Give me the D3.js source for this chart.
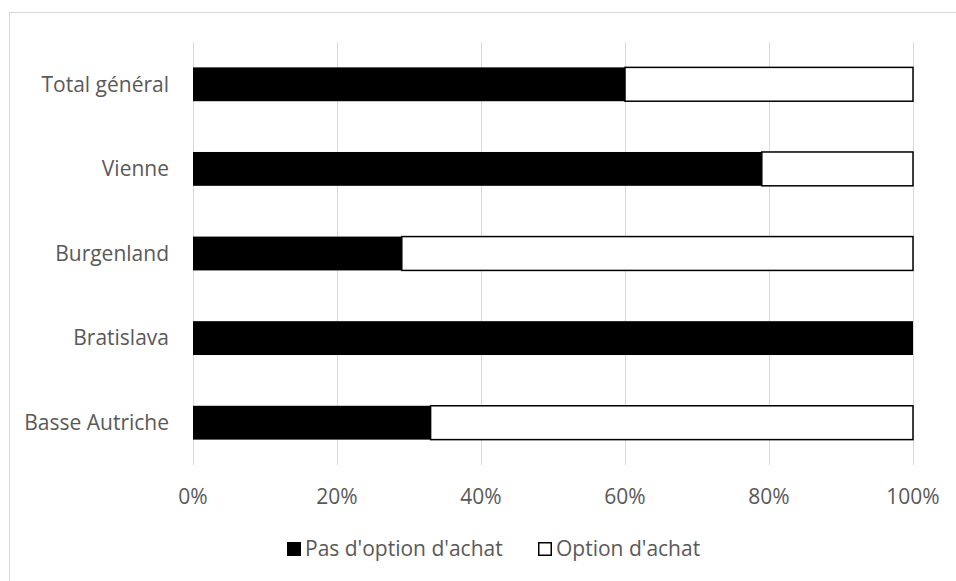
<!DOCTYPE html>
<html><head><meta charset="utf-8">
<script src="https://cdn.jsdelivr.net/npm/d3@7"></script>
<style>body{margin:0;background:#fff}svg{display:block}text{font-family:"Open Sans",sans-serif;fill:#595959}</style>
</head><body>
<svg id="c" width="956" height="581"></svg>
<script>
const categories = ["Total général","Vienne","Burgenland","Bratislava","Basse Autriche"];
const seriesNames = ["Pas d'option d'achat","Option d'achat"];
const noOption = [60,79,29,100,33];
const option = [40,21,71,0,67];
const tickValues = [0,20,40,60,80,100];

const FS = 21;
const svg = d3.select("#c");
svg.append("rect").attr("x",9.5).attr("y",12.5).attr("width",960).attr("height",600)
  .attr("fill","#fff").attr("stroke","#d9d9d9").attr("stroke-width",1);

const x = d3.scaleLinear().domain([0,100]).range([193,913]);
const y = d3.scaleBand().domain(categories).range([42,465]).paddingInner(0.6).paddingOuter(0.3);

svg.append("g").selectAll("line").data(tickValues).join("line")
  .attr("x1",d=>Math.round(x(d))+0.5).attr("x2",d=>Math.round(x(d))+0.5)
  .attr("y1",42).attr("y2",465).attr("stroke","#d9d9d9").attr("stroke-width",1);

const rows = categories.map((c,i)=>({c, a:noOption[i], b:option[i]}));
const g = svg.append("g");
g.selectAll("rect.a").data(rows).join("rect").attr("class","a")
  .attr("x",x(0)).attr("y",d=>y(d.c)).attr("width",d=>x(d.a)-x(0)).attr("height",y.bandwidth())
  .attr("fill","#000");
g.selectAll("rect.b").data(rows.filter(d=>d.b>0)).join("rect").attr("class","b")
  .attr("x",d=>x(d.a)).attr("y",d=>y(d.c)).attr("width",d=>x(d.a+d.b)-x(d.a)).attr("height",y.bandwidth())
  .attr("fill","#fff").attr("stroke","#000").attr("stroke-width",1.5);

svg.append("g").selectAll("text").data(categories).join("text")
  .attr("x",169).attr("y",d=>y(d)+y.bandwidth()/2).attr("dy","0.35em")
  .attr("text-anchor","end").attr("font-size",FS).text(d=>d);

svg.append("g").selectAll("text").data(tickValues).join("text")
  .attr("x",d=>x(d)).attr("y",497).attr("dy","0.35em")
  .attr("text-anchor","middle").attr("font-size",FS).text(d=>d+"%");

const leg = svg.append("g");
const legX = [287,538];
leg.selectAll("rect").data(seriesNames).join("rect")
  .attr("x",(d,i)=>legX[i]+ (i?0.75:0)).attr("y",(d,i)=>542+(i?0.75:0))
  .attr("width",(d,i)=>i?12.5:14).attr("height",(d,i)=>i?12.5:14)
  .attr("fill",(d,i)=>i?"#fff":"#000").attr("stroke",(d,i)=>i?"#000":"none").attr("stroke-width",1.5);
leg.selectAll("text").data(seriesNames).join("text")
  .attr("x",(d,i)=>legX[i]+18).attr("y",549).attr("dy","0.35em")
  .attr("font-size",FS).text(d=>d);
</script>
</body></html>
